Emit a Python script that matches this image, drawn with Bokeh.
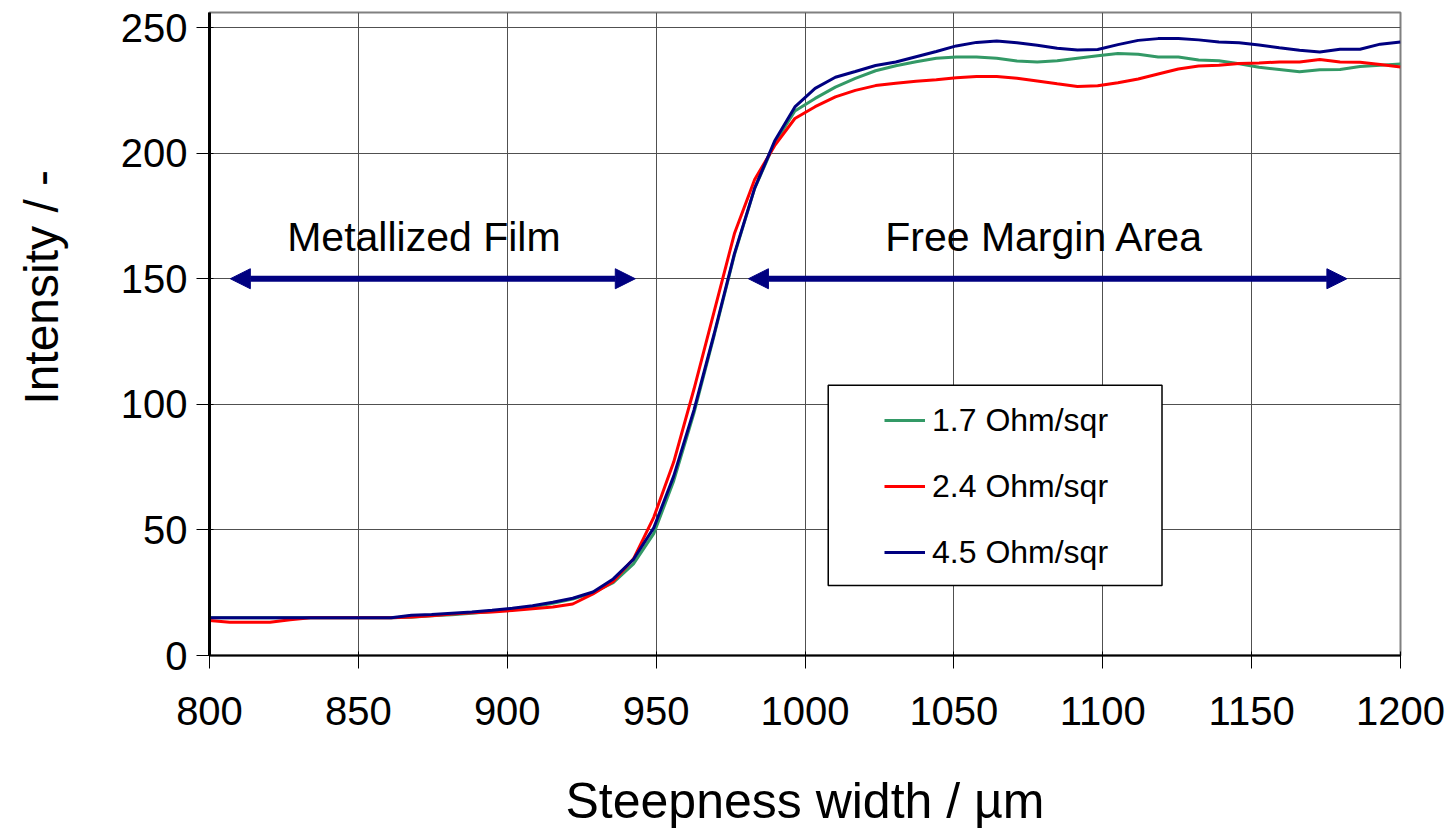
from bokeh.plotting import figure
from bokeh.models import (Range1d, FixedTicker, Legend, LegendItem, Arrow,
                          NormalHead, BoxAnnotation, ColumnDataSource)
from bokeh.embed import file_html
from bokeh.resources import INLINE
from bokeh.core.properties import value

# ---------------- data ----------------
x_um = [800.0, 806.8, 813.6, 820.3, 827.1, 833.9, 840.7, 847.5, 854.2, 861.0,
        867.8, 874.6, 881.4, 888.1, 894.9, 901.7, 908.5, 915.3, 922.0, 928.8,
        935.6, 942.4, 949.2, 955.9, 962.7, 969.5, 976.3, 983.1, 989.8, 996.6,
        1003.4, 1010.2, 1016.9, 1023.7, 1030.5, 1037.3, 1044.1, 1050.8, 1057.6, 1064.4,
        1071.2, 1078.0, 1084.7, 1091.5, 1098.3, 1105.1, 1111.9, 1118.6, 1125.4, 1132.2,
        1139.0, 1145.8, 1152.5, 1159.3, 1166.1, 1172.9, 1179.7, 1186.4, 1193.2, 1200.0]

ohm_1_7 = [15, 15, 15, 15, 15, 15, 15, 15, 15, 15,
           15.2, 15.8, 16.2, 16.8, 17.5, 18.3, 19.3, 20.8, 22.5, 25.0,
           29.0, 36.5, 48.5, 69.5, 96.5, 127.5, 159.5, 186.0, 204.0, 216.8,
           221.8, 226.3, 229.8, 232.8, 234.8, 236.4, 237.8, 238.3, 238.3, 237.8,
           236.7, 236.3, 236.8, 237.8, 238.8, 239.7, 239.4, 238.3, 238.3, 237.1,
           236.8, 235.6, 234.2, 233.3, 232.4, 233.2, 233.3, 234.5, 235.0, 235.5]

ohm_2_4 = [13.9, 13.2, 13.2, 13.2, 14.2, 15, 15, 15, 15, 15,
           15.3, 15.8, 16.5, 17.0, 17.3, 17.9, 18.6, 19.3, 20.5, 24.5,
           29.5, 38.5, 55.0, 77.0, 106.0, 137.0, 168.0, 189.5, 203.0, 213.8,
           218.5, 222.4, 225.0, 226.9, 227.8, 228.6, 229.2, 230.0, 230.5, 230.5,
           229.8, 228.7, 227.6, 226.5, 226.8, 228.0, 229.5, 231.5, 233.5, 234.7,
           235.0, 235.7, 235.9, 236.3, 236.3, 237.3, 236.3, 236.2, 235.3, 234.3]

ohm_4_5 = [15, 15, 15, 15, 15, 15, 15, 15, 15, 15,
           16.0, 16.3, 16.8, 17.3, 18.0, 18.8, 19.8, 21.2, 22.8, 25.3,
           30.5, 38.3, 50.8, 71.4, 97.7, 128.1, 160.0, 186.1, 204.8, 218.4,
           225.8, 230.2, 232.5, 234.9, 236.3, 238.4, 240.5, 242.7, 244.1, 244.7,
           244.0, 243.0, 241.8, 241.1, 241.3, 243.2, 244.9, 245.6, 245.6, 245.1,
           244.3, 244.0, 243.1, 242.0, 241.0, 240.3, 241.4, 241.4, 243.4, 244.3]

series_names = ["1.7 Ohm/sqr", "2.4 Ohm/sqr", "4.5 Ohm/sqr"]
series_values = [ohm_1_7, ohm_2_4, ohm_4_5]
series_colors = ["#339966", "#FF0000", "#000080"]

x_ticks = [800, 850, 900, 950, 1000, 1050, 1100, 1150, 1200]
y_ticks = [0, 50, 100, 150, 200, 250]

x_title = "Steepness width / µm"
y_title = "Intensity / -"

region_texts = ["Metallized Film", "Free Margin Area"]
region_text_x = [872.0, 1080.5]
region_text_y = [166.5, 166.5]
region_arrow_x0 = [807.0, 981.0]
region_arrow_x1 = [943.0, 1182.0]
region_arrow_y = 150.0

# legend frame (data units of the plot)
legend_box = dict(left=1007.8, right=1119.9, bottom=27.9, top=107.6)

FONT = "Liberation Sans"

# ---------------- figure ----------------
p = figure(width=1451, height=832, output_backend="svg", toolbar_location=None,
           x_range=Range1d(800, 1200), y_range=Range1d(0, 256),
           min_border_left=209, min_border_right=51,
           min_border_top=12, min_border_bottom=177)
p.background_fill_color = "white"
p.border_fill_color = "white"
p.outline_line_color = "#808080"
p.outline_line_width = 2

# grid
p.xgrid.ticker = FixedTicker(ticks=x_ticks)
p.ygrid.ticker = FixedTicker(ticks=y_ticks)
for g in (p.xgrid, p.ygrid):
    g.grid_line_color = "#505050"
    g.grid_line_width = 1

# axes
p.xaxis.ticker = FixedTicker(ticks=x_ticks)
p.yaxis.ticker = FixedTicker(ticks=y_ticks)
p.xaxis.axis_label = x_title
# leading no-break spaces shift the rotated title up along the axis, as in the original
p.yaxis.axis_label = "\u00a0" * 7 + y_title
for ax in (p.xaxis, p.yaxis):
    ax.axis_label_text_font = FONT
    ax.axis_label_text_font_style = "normal"
    ax.axis_label_text_color = "black"
    ax.major_label_text_font = FONT
    ax.major_label_text_font_size = "40px"
    ax.major_label_text_color = "black"
    ax.major_tick_line_color = "black"
    ax.major_tick_line_width = 1
    ax.minor_tick_line_color = None
    ax.major_tick_in = 4
    ax.major_tick_out = 13
p.xaxis.axis_label_text_font_size = "50px"
p.yaxis.axis_label_text_font_size = "48px"
p.xaxis.axis_line_color = "black"
p.xaxis.axis_line_width = 2
p.yaxis.axis_line_color = "black"
p.yaxis.axis_line_width = 3
p.xaxis.major_label_standoff = 28
p.yaxis.major_label_standoff = 9
p.xaxis.axis_label_standoff = 45
p.yaxis.axis_label_standoff = 50

# lines
renderers = []
for name, vals, col in zip(series_names, series_values, series_colors):
    src = ColumnDataSource(dict(x=x_um, y=vals))
    r = p.line("x", "y", source=src, line_color=col, line_width=3)
    renderers.append(r)

# region labels and arrows
src_txt = ColumnDataSource(dict(x=region_text_x, y=region_text_y, t=region_texts))
p.text("x", "y", text="t", source=src_txt, text_font=value(FONT),
       text_font_size="41px", text_align="center", text_baseline="alphabetic",
       text_color="black")
for x0, x1 in zip(region_arrow_x0, region_arrow_x1):
    p.add_layout(Arrow(x_start=x0, y_start=region_arrow_y, x_end=x1, y_end=region_arrow_y,
                       line_color="#000080", line_width=6,
                       start=NormalHead(size=20, fill_color="#000080", line_color="#000080", line_width=1),
                       end=NormalHead(size=20, fill_color="#000080", line_color="#000080", line_width=1)))

# legend frame
p.add_layout(BoxAnnotation(fill_color="white", fill_alpha=1.0, line_color="black",
                           line_width=1.5, line_alpha=1.0, **legend_box))

legend = Legend(items=[LegendItem(label=n, renderers=[r]) for n, r in zip(series_names, renderers)],
                location=(675, 83), orientation="vertical",
                padding=0, margin=0, spacing=26,
                glyph_width=41, glyph_height=40, label_standoff=7,
                label_text_font=FONT, label_text_font_size="32px", label_text_color="black",
                border_line_color=None, background_fill_alpha=0.0)
p.add_layout(legend)

open("out.html", "w").write(file_html(p, INLINE))
